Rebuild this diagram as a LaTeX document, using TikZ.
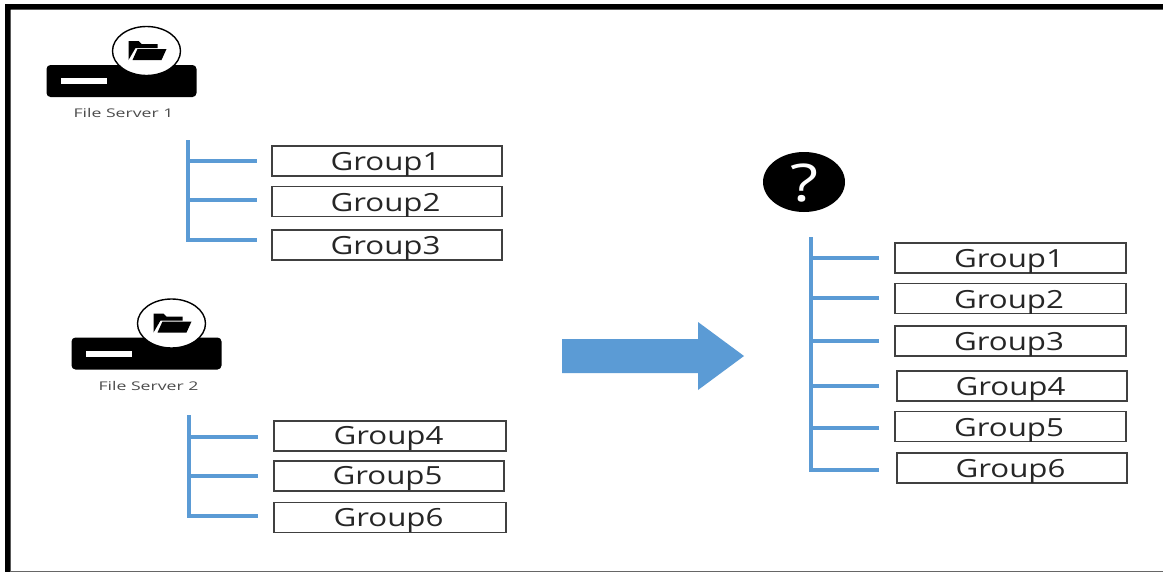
\documentclass[tikz,border=0pt]{standalone}
\usepackage{fontspec}
\usepackage{tikz}
\usetikzlibrary{shapes.geometric}
\newfontfamily\groupfont[FakeStretch=1.25]{Open Sans}
\newfontfamily\serverfont[FakeStretch=1.47]{Open Sans}
\definecolor{treeblue}{HTML}{5B9BD5}
\tikzset{
  groupbox/.style={draw=black!75,line width=1.4bp,fill=white,minimum height=30bp,minimum width=230bp,inner sep=0pt,text=black!85,text height=19.5bp,text depth=0bp,execute at end node=\kern3bp,font=\groupfont\fontsize{25bp}{27bp}\selectfont},
  treeline/.style={draw=treeblue,line width=3.1bp},
  serverbody/.style={fill=black,draw=none,rounded corners=4bp,minimum width=150bp,minimum height=32bp,inner sep=0pt},
  serverbar/.style={fill=white,draw=none,minimum width=46bp,minimum height=6bp,inner sep=0pt},
  serverlens/.style={draw=black,fill=white,line width=1.4bp,ellipse,minimum width=68bp,minimum height=49bp,inner sep=0pt},
  serverlabel/.style={text=black!70,inner sep=0pt,font=\serverfont\fontsize{12bp}{14bp}\selectfont},
  pics/fileserver/.style={code={
    \node (-body) at (0bp,0bp)[serverbody] {};
    \node (-bar) at (-38bp,0bp)[serverbar] {};
    \node (-lens) at (25bp,30bp)[serverlens] {};
    \node (-label) at (2bp,-32bp)[serverlabel] {#1};
    \fill (7bp,21bp) -- (7bp,40bp) -- (17bp,40bp) -- (20bp,37bp) -- (36bp,37bp) -- (36bp,33bp) -- (14bp,33bp) -- cycle;
    \fill (11bp,21bp) -- (16bp,32bp) -- (45bp,32bp) -- (40bp,21bp) -- cycle;
  }},
}
\begin{document}
\begin{tikzpicture}[x=1bp,y=1bp]
\useasboundingbox (0bp,0bp) rectangle (1163bp,-572bp);
\fill[white] (0bp,0bp) rectangle (1163bp,-572bp);

% frame
\fill[black] (5bp,-572bp) -- (5bp,-4bp) -- (1163bp,-4bp) -- (1163bp,-9.5bp) -- (10.5bp,-9.5bp) -- (10.5bp,-572bp) -- cycle;
\draw[black!60,line width=1bp] (10bp,-571.5bp) -- (1163bp,-571.5bp);

% servers
\pic (S1) at (121.5bp,-81bp) {fileserver={File Server 1}};
\pic (S2) at (146.5bp,-353.5bp) {fileserver={File Server 2}};

% first tree
\node (A1) at (387bp,-161bp)[groupbox] {Group1};
\node (A2) at (387bp,-201.5bp)[groupbox] {Group2};
\node (A3) at (387bp,-245bp)[groupbox] {Group3};
\coordinate (T1a) at (188bp,-140bp);
\coordinate (T1b) at (188bp,-161bp);
\coordinate (T1c) at (188bp,-200bp);
\coordinate (T1d) at (188bp,-240bp);
\coordinate (E1a) at (257bp,-161bp);
\coordinate (E1b) at (257bp,-200bp);
\coordinate (E1c) at (257bp,-240bp);
\draw [treeline] (T1a) -- (T1d) -- (E1c);
\draw [treeline] (T1b) -- (E1a);
\draw [treeline] (T1c) -- (E1b);

% second tree
\node (B4) at (390bp,-436bp)[groupbox,minimum width=232bp,text height=17.5bp] {Group4};
\node (B5) at (389bp,-476bp)[groupbox,text height=17.5bp] {Group5};
\node (B6) at (390bp,-517.5bp)[groupbox,minimum width=232bp,text height=17.5bp] {Group6};
\coordinate (T2a) at (189bp,-415bp);
\coordinate (T2b) at (189bp,-437bp);
\coordinate (T2c) at (189bp,-476bp);
\coordinate (T2d) at (189bp,-516bp);
\coordinate (E2a) at (258bp,-437bp);
\coordinate (E2b) at (258bp,-476bp);
\coordinate (E2c) at (258bp,-516bp);
\draw [treeline] (T2a) -- (T2d) -- (E2c);
\draw [treeline] (T2b) -- (E2a);
\draw [treeline] (T2c) -- (E2b);

% arrow
\fill[treeblue] (562bp,-339bp) -- (698bp,-339bp) -- (698bp,-322bp) -- (744bp,-356bp) -- (698bp,-390bp) -- (698bp,-373bp) -- (562bp,-373bp) -- cycle;

% unknown target
\node (Q) at (804bp,-182bp)[ellipse,fill=black,text=white,minimum width=82bp,minimum height=60bp,inner sep=0pt,text height=38bp,text depth=0bp,font=\groupfont\fontsize{52bp}{54bp}\selectfont] {?};

% merged tree
\node (C1) at (1010.5bp,-258bp)[groupbox,minimum width=231bp] {Group1};
\node (C2) at (1010.5bp,-298.5bp)[groupbox,minimum width=231bp] {Group2};
\node (C3) at (1010.5bp,-341bp)[groupbox,minimum width=231bp] {Group3};
\node (C4) at (1012bp,-386bp)[groupbox] {Group4};
\node (C5) at (1010.5bp,-426.5bp)[groupbox,minimum width=231bp] {Group5};
\node (C6) at (1012bp,-468bp)[groupbox] {Group6};
\coordinate (T3a) at (811bp,-237bp);
\coordinate (T3b) at (811bp,-258bp);
\coordinate (T3c) at (811bp,-298bp);
\coordinate (T3d) at (811bp,-341bp);
\coordinate (T3e) at (811bp,-386bp);
\coordinate (T3f) at (811bp,-428bp);
\coordinate (T3g) at (811bp,-470bp);
\coordinate (E3a) at (879bp,-258bp);
\coordinate (E3b) at (879bp,-298bp);
\coordinate (E3c) at (879bp,-341bp);
\coordinate (E3d) at (879bp,-386bp);
\coordinate (E3e) at (879bp,-428bp);
\coordinate (E3f) at (879bp,-470bp);
\draw [treeline] (T3a) -- (T3g) -- (E3f);
\draw [treeline] (T3b) -- (E3a);
\draw [treeline] (T3c) -- (E3b);
\draw [treeline] (T3d) -- (E3c);
\draw [treeline] (T3e) -- (E3d);
\draw [treeline] (T3f) -- (E3e);
\end{tikzpicture}
\end{document}
